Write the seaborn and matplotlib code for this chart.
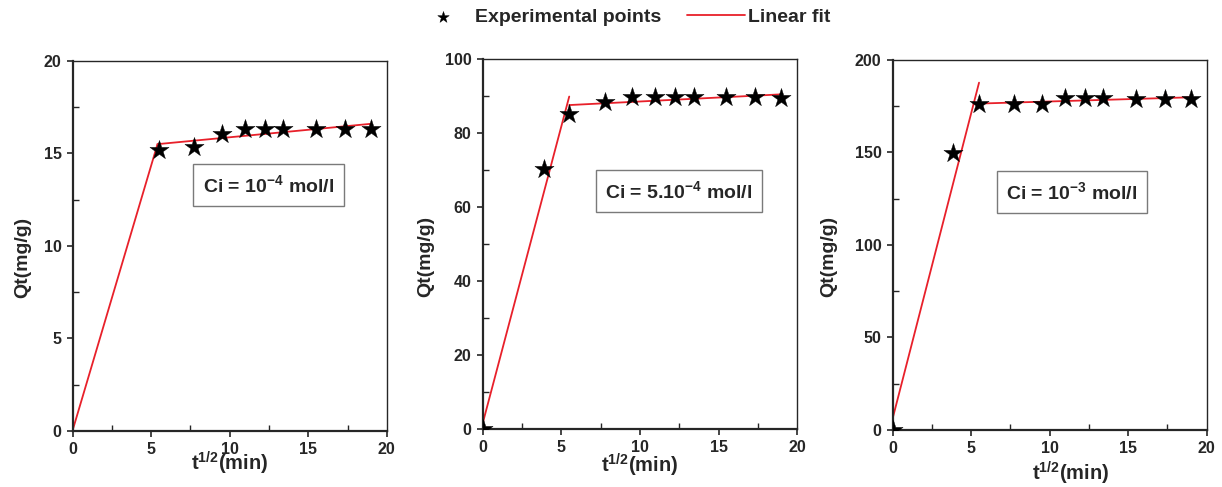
import numpy as np
import pandas as pd
import matplotlib
matplotlib.use("Agg")
import matplotlib.pyplot as plt
import seaborn as sns
from matplotlib.ticker import MultipleLocator

# square root of contact time (min^1/2)
t_sqrt = [0, 3.87, 5.48, 7.75, 9.49, 10.95, 12.25, 13.42, 15.49, 17.32, 18.97]

# adsorbed amount Qt (mg/g) for each initial concentration
qt_low = [15.2, 15.35, 16.05, 16.3, 16.3, 16.3, 16.3, 16.3, 16.3]      # from t_sqrt[2:]
qt_mid = [0, 70.4, 85.2, 88.5, 89.7, 89.7, 89.7, 89.7, 89.7, 89.7, 89.6]
qt_high = [0, 149.9, 176.0, 176.2, 176.2, 179.3, 179.3, 179.3, 179.0, 179.0, 178.7]

# linear fits: two segments per panel, (x0, x1), (y0, y1)
fit_low = [((0, 5.4), (0.05, 15.5)), ((5.4, 19.0), (15.5, 16.6))]
fit_mid = [((0, 5.5), (1.6, 89.9)), ((5.5, 19.0), (87.6, 90.5))]
fit_high = [((0, 5.5), (6.3, 187.7)), ((5.5, 19.0), (176.4, 179.8))]

labels = [r"Ci = 10$^{-4}$ mol/l", r"Ci = 5.10$^{-4}$ mol/l", r"Ci = 10$^{-3}$ mol/l"]
y_max = [20, 100, 200]
y_major = [5, 20, 50]

sns.set_style("ticks")
plt.rcParams["font.family"] = ["Liberation Sans", "DejaVu Sans"]
plt.rcParams["font.weight"] = "bold"
plt.rcParams["mathtext.fontset"] = "custom"
plt.rcParams["mathtext.rm"] = "Liberation Sans:bold"
plt.rcParams["mathtext.it"] = "Liberation Sans:bold"
plt.rcParams["mathtext.bf"] = "Liberation Sans:bold"
plt.rcParams["mathtext.default"] = "regular"

fig = plt.figure(figsize=(12.22, 4.87), dpi=100)
positions = [
    [0.0595, 0.115, 0.257, 0.760],
    [0.395, 0.1185, 0.2575, 0.760],
    [0.7305, 0.117, 0.257, 0.760],
]
points = [(t_sqrt[2:], qt_low), (t_sqrt, qt_mid), (t_sqrt, qt_high)]
fits = [fit_low, fit_mid, fit_high]
box_pos = [(0.624, 0.665), (0.624, 0.644), (0.571, 0.643)]
ylab_x = [-0.133, -0.155, -0.178]
xlab_pos = [(0.5, -0.052), (0.5, -0.062), (0.568, -0.08)]
red = "#e8202a"

for i in range(3):
    ax = fig.add_axes(positions[i])
    x, y = points[i]
    df = pd.DataFrame({"t": x, "qt": y})
    sns.scatterplot(data=df, x="t", y="qt", marker="*", s=210, color="black",
                    edgecolor="black", linewidth=0.3, ax=ax, zorder=3,
                    label="Experimental points" if i == 0 else None)
    for j, (sx, sy) in enumerate(fits[i]):
        seg = pd.DataFrame({"t": list(sx), "qt": list(sy)})
        sns.lineplot(data=seg, x="t", y="qt", color=red, linewidth=1.3,
                     sort=False, estimator=None, ax=ax, zorder=2,
                     label="Linear fit" if (i == 0 and j == 0) else None)
    if ax.get_legend() is not None:
        ax.get_legend().remove()

    ax.set_xlim(0, 20)
    ax.set_ylim(0, y_max[i])
    ax.xaxis.set_major_locator(MultipleLocator(5))
    ax.xaxis.set_minor_locator(MultipleLocator(2.5))
    ax.yaxis.set_major_locator(MultipleLocator(y_major[i]))
    ax.yaxis.set_minor_locator(MultipleLocator(y_major[i] / 2))
    ax.tick_params(which="major", direction="out", length=4, width=1.2,
                   labelsize=11.5, pad=4)
    ax.tick_params(which="minor", direction="in", length=4, width=1.0)
    for lab in ax.get_xticklabels() + ax.get_yticklabels():
        lab.set_fontweight("bold")
    for side in ["left", "bottom"]:
        ax.spines[side].set_linewidth(1.6)
    for side in ["top", "right"]:
        ax.spines[side].set_linewidth(1.0)

    ax.set_xlabel(r"t$^{1/2}$(min)", fontsize=14.5, fontweight="bold")
    ax.set_ylabel("Qt(mg/g)", fontsize=14, fontweight="bold")
    ax.xaxis.set_label_coords(*xlab_pos[i])
    ax.yaxis.set_label_coords(ylab_x[i], 0.468)

    ax.text(box_pos[i][0], box_pos[i][1], labels[i], transform=ax.transAxes,
            ha="center", va="center", fontsize=14, fontweight="bold",
            bbox=dict(boxstyle="square,pad=0.5", facecolor="white",
                      edgecolor="#7a7a7a", linewidth=1.0))

    if i == 0:
        handles, leg_labels = ax.get_legend_handles_labels()

fig.legend(handles, leg_labels, loc="center", bbox_to_anchor=(0.509, 0.965),
           ncol=2, frameon=False, handlelength=3.0,
           handletextpad=0.15, columnspacing=1.3, markerscale=0.6,
           prop={"weight": "bold", "size": 14})

plt.savefig("out.png", dpi=100)
plt.close()
